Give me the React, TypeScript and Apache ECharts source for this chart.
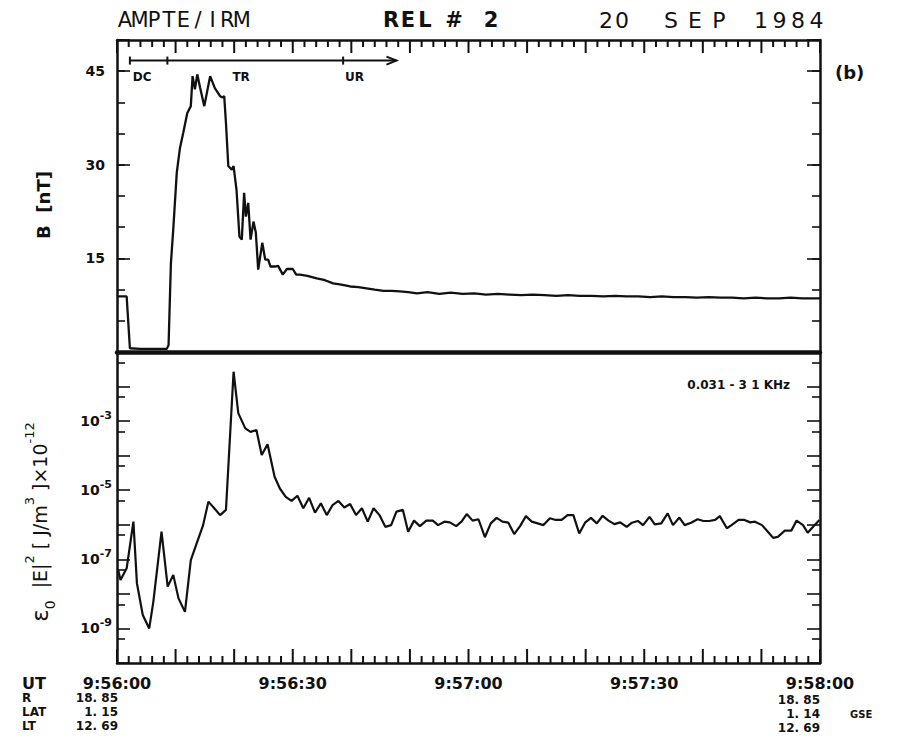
import { useEffect, useRef } from 'react';
import * as echarts from 'echarts';

// ---- Data (seconds after 09:56:00 UT) ----
const timeLabelSec = [0, 30, 60, 90, 120];
const timeLabels = ['9:56:00', '9:56:30', '9:57:00', '9:57:30', '9:58:00'];
// frame ticks along the time axes: long every 10 s, short every 2 s
const xTickSec = [
  0, 2, 4, 6, 8, 10, 12, 14, 16, 18, 20, 22, 24, 26, 28, 30, 32, 34, 36, 38, 40, 42, 44, 46, 48, 50, 52, 54, 56,
  58, 60, 62, 64, 66, 68, 70, 72, 74, 76, 78, 80, 82, 84, 86, 88, 90, 92, 94, 96, 98, 100, 102, 104, 106, 108,
  110, 112, 114, 116, 118, 120,
];

const bTime = [
  0, 1.65, 2.2, 4, 6, 8.5, 8.8, 9.2, 9.6, 10.2, 10.75, 11.3, 12.0, 12.6, 12.9, 13.3, 13.7, 14.2, 14.9, 15.9,
  16.7, 17.6, 18.0, 18.3, 18.6, 19.0, 19.6, 19.9, 20.4, 20.9, 21.3, 21.7, 22.0, 22.4, 22.8, 23.3, 23.7, 24.1,
  24.8, 25.3, 25.8, 26.2, 27.0, 27.5, 28.3, 29.0, 30.0, 30.6, 31.2, 32.5, 34.1, 35.5, 36.9, 38.3, 39.8, 41.2,
  42.6, 44.0, 45.5, 46.9, 48.3, 49.7, 51.2, 53, 55, 57, 59, 61, 63, 65, 67, 69, 71, 73, 75, 77, 79, 81, 83,
  85, 87, 89, 91, 93, 95, 97, 99, 101, 103, 105, 107, 109, 111, 113, 115, 117, 119, 120,
];
const bValue = [
  8.9, 8.9, 0.6, 0.5, 0.5, 0.5, 1.1, 14.2, 19.6, 28.7, 32.7, 35.1, 38.3, 39.4, 44.2, 42.1, 44.5, 42.3, 39.4, 44.2,
  42.3, 41.0, 40.8, 41.0, 36.7, 29.8, 29.2, 29.8, 26.0, 18.5, 18.0, 25.5, 21.7, 23.9, 18.0, 20.9, 19.1, 13.2,
  17.5, 14.8, 14.8, 13.7, 13.7, 13.8, 12.4, 13.3, 13.3, 12.4, 12.4, 12.2, 11.8, 11.5, 11.0, 10.8, 10.5, 10.4,
  10.2, 10.0, 9.8, 9.8, 9.7, 9.6, 9.4, 9.6, 9.3, 9.5, 9.3, 9.4, 9.2, 9.3, 9.2, 9.1, 9.2, 9.1, 9.0, 9.1, 9.0, 9.0, 8.9,
  9.0, 8.9, 8.9, 8.8, 8.9, 8.8, 8.8, 8.7, 8.8, 8.7, 8.7, 8.6, 8.7, 8.6, 8.6, 8.7, 8.6, 8.6, 8.6,
];

// log10 of eps0 |E|^2 [J/m^3] x 10^-12, 0.031 - 31 kHz
const eTime = [
  0.2, 0.6, 1.65, 2.8, 3.4, 4.4, 5.5, 6.2, 7.6, 8.65, 9.6, 10.5, 11.6, 12.6, 13.6, 14.7, 15.6, 16.6, 17.6, 18.6,
  19.9, 20.7, 21.9, 22.8, 23.8, 24.7, 25.7, 26.9, 27.8, 28.8, 29.8, 30.8, 31.8, 32.8, 33.8, 34.8, 35.8, 36.8,
  37.8, 38.8, 39.8, 40.8, 41.8, 42.8, 43.8, 44.8, 45.8, 46.8, 47.7, 48.8, 49.7,
  50.7, 51.7, 52.8, 53.9, 54.8, 55.9, 56.8, 57.9, 58.8, 59.7, 60.7, 61.7, 62.8, 63.8, 64.8, 65.8, 66.8, 67.8,
  68.8, 69.8, 70.8, 71.8, 72.8, 73.9, 74.9, 75.9, 76.9, 77.9, 78.9, 79.9, 80.9, 81.9, 82.9, 83.9, 84.9,
  85.9, 87.0, 87.9, 88.9, 89.8, 90.9, 91.8, 92.9, 94.0, 94.9, 96.0, 96.9, 98.0, 99.1, 100.1, 101.1, 102.1,
  102.9, 104.1, 104.9, 106.1, 107.1, 108.1, 108.9, 110.1, 111.1, 112.0, 112.8, 114.0, 115.1, 116.0, 117.1,
  117.9, 118.9, 119.9,
];
const eLog = [
  -7.31, -7.6, -7.26, -5.91, -7.69, -8.61, -9.0, -8.23, -6.2, -7.79, -7.45, -8.13, -8.52, -7.02, -6.54, -6.01,
  -5.33, -5.52, -5.72, -5.57, -1.57, -2.77, -3.21, -3.31, -3.26, -3.98, -3.67, -4.61, -4.95, -5.19, -5.31, -5.16,
  -5.52, -5.22, -5.65, -5.38, -5.72, -5.43, -5.31, -5.5, -5.4, -5.72, -5.52, -5.91, -5.52, -5.72, -6.06, -6.01,
  -5.62, -5.57, -6.2,
  -5.88, -6.04, -5.88, -5.88, -6.01, -5.91, -5.93, -6.04, -5.91, -5.69, -5.88, -5.84, -6.36, -5.96, -5.8, -5.91,
  -5.94, -6.27, -6.04, -5.75, -5.91, -5.96, -6.01, -5.81, -5.86, -5.86, -5.72, -5.72, -6.25, -5.94, -5.8, -5.96,
  -5.74, -5.88, -5.98,
  -5.93, -6.06, -5.94, -5.89, -6.01, -5.77, -5.99, -5.96, -5.67, -6.01, -5.79, -6.01, -5.94, -5.84, -5.89, -5.89,
  -5.86, -5.75, -6.1, -6.01, -5.86, -5.86, -5.93, -5.91, -6.01, -6.2, -6.38, -6.35, -6.17, -6.17, -5.88, -6.01,
  -6.23, -6.04, -5.86,
];

const bTickLabels = [15, 30, 45];
const eLabelExps = [-9, -7, -5, -3];
const eHalfTicks = [-1, -2, -3, -4, -5, -6, -7, -8, -9].map((n) => n - Math.log10(2));

// Instrument phases (DC / TR / UR) on the top time axis
const phaseNames = ['DC', 'TR', 'UR'];
const phaseStart = [2.2, 8.6, 38.6];
const phaseLabelT = [2.7, 19.7, 38.9];
const phaseArrowEnd = 47.7;
const phaseLineB = 46.7;
const phaseLabelB = 44.0;

const startOrbit = ['18. 85', '1. 15', '12. 69'];
const endOrbit = ['18. 85', '1. 14', '12. 69'];
const orbitNames = ['R', 'LAT', 'LT'];

const FONT = 'DejaVu Sans';
const INK = '#111111';

export default function App() {
  const ref = useRef<HTMLDivElement>(null);

  useEffect(() => {
    document.body.style.margin = '0';
    const chart = echarts.init(ref.current as HTMLDivElement, null, { renderer: 'svg' });

    const line = (w: number) => ({ show: true, onZero: false, lineStyle: { color: INK, width: w } });
    const hidden = { show: false, onZero: false };
    const tick = (len: number) => ({ show: true, inside: true, length: len, lineStyle: { color: INK, width: 1.6 } });
    const noLabel = { show: false };
    const noSplit = { show: false };

    const xAx = (grid: number, pos: string, width: number, label: any) => ({
      gridIndex: grid, type: 'value', position: pos, min: 0, max: 120, interval: 10,
      axisLine: line(width), axisTick: { show: false }, axisLabel: label, splitLine: noSplit,
    });
    const yTop = (pos: string, interval: number, len: number, showLine: boolean, label: any) => ({
      gridIndex: 0, type: 'value', position: pos, min: 0, max: 50, interval,
      axisLine: showLine ? line(2.5) : hidden,
      axisTick: tick(len), axisLabel: label, splitLine: noSplit,
    });
    const yBot = (pos: string, len: number, showLine: boolean, half: boolean, label: any) => ({
      gridIndex: 1, type: 'value', position: pos, min: -10, max: -1, interval: 1,
      axisLine: showLine ? line(2.5) : hidden,
      axisTick: half ? { ...tick(len), customValues: eHalfTicks } : tick(len),
      axisLabel: label, splitLine: noSplit,
    });

    const option: any = {
      animation: false,
      backgroundColor: '#ffffff',
      grid: [
        { left: 117, top: 40, width: 703, height: 312 },
        { left: 117, top: 352, width: 703, height: 311 },
      ],
      xAxis: [
        xAx(0, 'top', 2.5, noLabel),
        xAx(0, 'bottom', 4.5, noLabel),
        xAx(1, 'bottom', 2.5, {
          show: true, margin: 12, fontSize: 16, fontWeight: 'bold', fontFamily: FONT, color: INK,
          showMinLabel: true, showMaxLabel: true, hideOverlap: false,
          formatter: (v: number) => {
            const i = timeLabelSec.indexOf(v);
            return i >= 0 ? timeLabels[i] : '';
          },
        }),
      ],
      yAxis: [
        yTop('left', 5, 8, true, noLabel),
        yTop('left', 15, 13, false, {
          show: true, margin: 12, fontSize: 14, fontWeight: 'bold', fontFamily: FONT, color: INK,
          formatter: (v: number) => (bTickLabels.includes(v) ? String(v) : ''),
        }),
        yTop('right', 5, 8, true, noLabel),
        yTop('right', 15, 13, false, noLabel),
        yBot('left', 13, true, false, {
          show: true, margin: 5, color: INK,
          formatter: (v: number) => (eLabelExps.includes(v) ? `{b|10}{s|${v}}` : ''),
          rich: {
            b: { fontSize: 14, fontWeight: 'bold', fontFamily: FONT, color: INK, lineHeight: 22 },
            s: { fontSize: 11, fontWeight: 'bold', fontFamily: FONT, color: INK, lineHeight: 11, verticalAlign: 'top' },
          },
        }),
        yBot('left', 8, false, true, noLabel),
        yBot('right', 13, true, false, noLabel),
        yBot('right', 8, false, true, noLabel),
      ],
      series: [
        {
          type: 'line', xAxisIndex: 0, yAxisIndex: 0, symbol: 'none', silent: true,
          lineStyle: { color: INK, width: 2.3 },
          data: bTime.map((t, i) => [t, bValue[i]]),
        },
        {
          type: 'line', xAxisIndex: 2, yAxisIndex: 4, symbol: 'none', silent: true,
          lineStyle: { color: INK, width: 2.2 },
          data: eTime.map((t, i) => [t, eLog[i]]),
        },
      ],
    };
    chart.setOption(option);

    const px = (t: number, b: number) =>
      chart.convertToPixel({ xAxisIndex: 0, yAxisIndex: 0 }, [t, b]) as number[];
    const pxE = (t: number, e: number) =>
      chart.convertToPixel({ xAxisIndex: 2, yAxisIndex: 4 }, [t, e]) as number[];

    const txt = (text: string, x: number, y: number, size: number, weight: string, align = 'left', extra: any = {}) => ({
      type: 'text', x, y, silent: true, z: 100,
      style: { text, fontSize: size, fontWeight: weight, fontFamily: FONT, fill: INK, align, verticalAlign: 'middle', ...extra },
    });
    const seg = (x1: number, y1: number, x2: number, y2: number, w = 2) => ({
      type: 'line', silent: true, z: 100, shape: { x1, y1, x2, y2 }, style: { stroke: INK, lineWidth: w },
    });
    const bar = (x: number, y: number, w: number, h: number) => ({
      type: 'rect', silent: true, z: 120, shape: { x, y, width: w, height: h }, style: { fill: INK, stroke: 'none' },
    });
    // letter-spaced plotter-style words: one text per character
    const spaced = (text: string, x0: number, adv: number, y: number, size: number, weight: string) =>
      text.split('').map((c, i) => txt(c, x0 + i * adv, y, size, weight, 'center'));

    const elements: any[] = [];

    // Title line
    elements.push(...spaced('AMPTE/IRM', 125, 14.6, 20, 21, 'normal'));
    elements.push(...spaced('REL', 391, 17, 20, 21, 'bold'));
    elements.push(txt('#', 454, 20, 21, 'bold', 'center'));
    elements.push(txt('2', 491, 20, 21, 'bold', 'center'));
    elements.push(...spaced('20', 606, 16, 20, 22, 'normal'));
    elements.push(...spaced('SEP', 671, 24, 20, 22, 'normal'));
    elements.push(...spaced('1984', 761, 18.5, 20, 22, 'normal'));
    elements.push(txt('(b)', 835, 72, 18, 'bold'));
    elements.push(txt('0.031 - 3 1 KHz', 790, 385, 12, 'bold', 'right'));

    // Phase arrow
    const a0 = px(phaseStart[0], phaseLineB);
    const a1 = px(phaseArrowEnd, phaseLineB);
    elements.push(seg(a0[0], a0[1], a1[0], a1[1], 2));
    elements.push({
      type: 'polyline', silent: true, z: 100,
      shape: { points: [[a1[0] - 10, a1[1] - 4], [a1[0], a1[1]], [a1[0] - 10, a1[1] + 4]] },
      style: { stroke: INK, lineWidth: 2, fill: 'none' },
    });
    phaseStart.forEach((t, i) => {
      const p = px(t, phaseLineB);
      elements.push(seg(p[0], p[1] - 4, p[0], p[1] + 4, 2));
      const l = px(phaseLabelT[i], phaseLabelB);
      elements.push(txt(phaseNames[i], l[0], l[1], 12, 'bold'));
    });

    // Frame ticks on the time axes as thin filled bars (top: hanging down, bottom: standing up)
    const gTop = px(0, 50)[1];
    const gBot = pxE(0, -10)[1];
    xTickSec.forEach((t) => {
      const major = t % 10 === 0;
      const x = px(t, 50)[0];
      const lt = major ? 13 : 7;
      const lb = major ? 14 : 7;
      elements.push(bar(x - 1, gTop, 2, lt));
      elements.push(bar(x - 1, gBot - lb, 2, lb));
    });

    // Axis titles
    const bTitle: any = txt('B  [nT]', 43, 205, 18, 'bold', 'center');
    bTitle.rotation = Math.PI / 2;
    elements.push(bTitle);
    elements.push({
      type: 'text', x: 40, y: 522, rotation: Math.PI / 2, silent: true, z: 100,
      style: {
        text: '{e|ε}{sub|0}{t|  |E|}{sup|2}{t| [ J/m}{sup|3}{t| ]×10}{sup|-12}',
        align: 'center', verticalAlign: 'middle', fill: INK,
        rich: {
          e: { fontSize: 23, fontFamily: FONT, fill: INK, lineHeight: 34 },
          t: { fontSize: 19, fontFamily: FONT, fill: INK, lineHeight: 34 },
          sup: { fontSize: 13, fontFamily: FONT, fill: INK, lineHeight: 13, verticalAlign: 'top' },
          sub: { fontSize: 14, fontFamily: FONT, fill: INK, lineHeight: 14, verticalAlign: 'bottom' },
        },
      },
    });

    // Orbit info
    elements.push(txt('UT', 22, 683, 16, 'bold'));
    orbitNames.forEach((n, i) => {
      const y = 698 + i * 14;
      elements.push(txt(n, 22, y, 12, 'bold'));
      elements.push(txt(startOrbit[i], 118, y, 12, 'bold', 'right'));
      elements.push(txt(endOrbit[i], 820, y + 2, 12, 'bold', 'right'));
    });
    elements.push(txt('GSE', 850, 714, 10, 'bold'));

    chart.setOption({ graphic: { elements } });

    return () => chart.dispose();
  }, []);

  return <div ref={ref} style={{ width: 910, height: 738 }} />;
}
